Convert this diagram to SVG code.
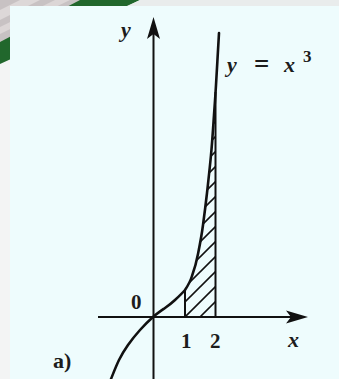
<svg xmlns="http://www.w3.org/2000/svg" width="339" height="379" viewBox="0 0 339 379">
<style>
.ax{stroke:#111;stroke-width:2;fill:none}
.cv{stroke:#111;stroke-width:2.6;fill:none;stroke-linecap:round}
.ht{stroke:#111;stroke-width:1.6}
.it{font-family:"Liberation Serif","DejaVu Serif",serif;font-style:italic;font-weight:bold;fill:#1c1c1c}
.rm{font-family:"Liberation Serif","DejaVu Serif",serif;font-weight:bold;fill:#1c1c1c}
</style>
<defs>
<marker id="ah" markerUnits="userSpaceOnUse" viewBox="0 0 22 14" refX="14" refY="7" markerWidth="22" markerHeight="14" orient="auto">
<path d="M22,7 L0,0.5 L5,7 L0,13.5 Z" fill="#111"/>
</marker>
<clipPath id="hc">
<path d="M185,317 L185,290 C188,285.5 190.5,281 192,276 C194.5,269 196.5,262 198,254 C200,244 201.8,234.5 203,225 C204.5,214 205.8,203.5 207,193 C208.3,181 209.8,168 211,155 C212.2,142.8 213.2,126.7 214,115 C214.8,103.3 215.2,98.7 216,85 L215.5,317 Z"/>
</clipPath>
</defs>
<g id="background">
<rect width="339" height="379" fill="#f3f4f4"/>
<polygon points="0,0 90,0 0,44" fill="#c8c2c3"/>
<polygon points="20,0 40,0 0,20 0,10" fill="#ddd8d8"/>
<polygon points="55,0 70,0 0,34 0,27" fill="#dcd6d6"/>
<polygon points="80,0 140,0 0,64 0,42" fill="#21672c"/>
<polygon points="140,0 339,0 339,6 128,6" fill="#e9ecec"/>
<rect x="10" y="6" width="329" height="373" fill="#eefcfd"/>
</g>
<g id="axes">
<line class="ax" x1="98" y1="317" x2="300" y2="317" marker-end="url(#ah)"/>
<line class="ax" x1="153.5" y1="379" x2="153.5" y2="25" marker-end="url(#ah)"/>
</g>
<g id="hatch">
<g clip-path="url(#hc)">
<line class="ht" x1="185" y1="332" x2="216" y2="301"/>
<line class="ht" x1="185" y1="317" x2="216" y2="286"/>
<line class="ht" x1="185" y1="302" x2="216" y2="271"/>
<line class="ht" x1="185" y1="287" x2="216" y2="256"/>
<line class="ht" x1="185" y1="272" x2="216" y2="241"/>
<line class="ht" x1="185" y1="257" x2="216" y2="226"/>
<line class="ht" x1="185" y1="242" x2="216" y2="211"/>
<line class="ht" x1="185" y1="227" x2="216" y2="196"/>
<line class="ht" x1="185" y1="212" x2="216" y2="181"/>
<line class="ht" x1="185" y1="197" x2="216" y2="166"/>
<line class="ht" x1="185" y1="182" x2="216" y2="151"/>
<line class="ht" x1="185" y1="167" x2="216" y2="136"/>
<line class="ht" x1="185" y1="152" x2="216" y2="121"/>
<line class="ht" x1="185" y1="137" x2="216" y2="106"/>
<line class="ht" x1="185" y1="122" x2="216" y2="91"/>
</g>
<line class="ax" x1="185" y1="317" x2="185" y2="289"/>
<line class="ax" x1="215.5" y1="317" x2="215.5" y2="92"/>
</g>
<g id="curve">
<path class="cv" d="M111,379 C112.3,375.8 116.2,365.7 119,360 C121.8,354.3 124.5,350 128,345 C131.5,340 135.8,334.7 140,330 C144.2,325.3 148.7,320.8 153,317 C157,313.5 161,310.8 165,308 C168.8,305.3 172,302.8 175,300 C179,296.3 182,293.5 185,290 C188,285.5 190.5,281 192,276 C194.5,269 196.5,262 198,254 C200,244 201.8,234.5 203,225 C204.5,214 205.8,203.5 207,193 C208.3,181 209.8,168 211,155 C212.2,142.8 213.2,126.7 214,115 C214.8,103.3 215.2,98.7 216,85 C216.8,71.3 218.5,41.7 219,33"/>
</g>
<g id="labels">
<text class="it" x="121" y="37" font-size="22">y</text>
<text class="it" x="227" y="72" font-size="22">y</text>
<text class="rm" x="254" y="73" font-size="27">=</text>
<text class="it" x="284" y="72" font-size="22">x</text>
<text class="rm" x="303" y="62" font-size="17">3</text>
<text class="rm" x="131" y="309" font-size="21">0</text>
<text class="rm" x="181" y="348" font-size="21">1</text>
<text class="rm" x="210" y="348" font-size="21">2</text>
<text class="it" x="288" y="347" font-size="22">x</text>
<text class="rm" x="53" y="368" font-size="22">a)</text>
</g>
</svg>
